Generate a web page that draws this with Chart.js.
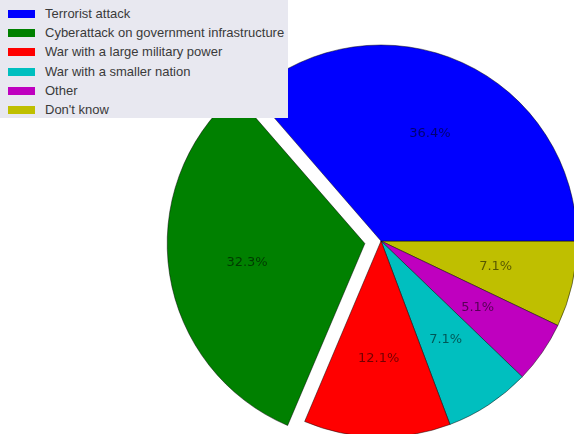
<!DOCTYPE html>
<html>
<head>
<meta charset="utf-8">
<script src="https://cdn.jsdelivr.net/npm/chart.js@4"></script>
<style>
  body { margin: 0; background: #fff; }
  #wrap { position: relative; width: 574px; height: 434px; overflow: hidden; }
  #legend {
    position: absolute; left: 0; top: 0; width: 288px; height: 118px;
    background: #e8e8f0; font-family: "Liberation Sans", Arial, sans-serif;
    font-size: 13px; color: #3a3a3a; z-index: 2;
  }
  .row { position: absolute; left: 0; height: 19px; line-height: 19px; white-space: nowrap; }
  .sw { position: absolute; left: 8px; top: 6px; width: 27px; height: 8px; }
  .lb { position: absolute; left: 45px; top: 0; }
</style>
</head>
<body>
<div id="wrap">
  <canvas id="pie" width="574" height="434"></canvas>
  <div id="legend"></div>
</div>
<script>
const labels = [
  'Terrorist attack',
  'Cyberattack on government infrastructure',
  'War with a large military power',
  'War with a smaller nation',
  'Other',
  "Don't know"
];
const values = [36.4, 32.3, 12.1, 7.1, 5.1, 7.1];
const colors = ['#0000ff', '#008000', '#ff0000', '#00bfbf', '#bf00bf', '#bfbf00'];
const explode = [0, 18, 0, 0, 0, 0]; // pixels

// legend (top-left box)
const legend = document.getElementById('legend');
labels.forEach((name, i) => {
  const row = document.createElement('div');
  row.className = 'row';
  row.style.top = (4 + i * 19.2) + 'px';
  row.innerHTML = '<span class="sw" style="background:' + colors[i] + '"></span><span class="lb"></span>';
  row.querySelector('.lb').textContent = name;
  legend.appendChild(row);
});

// matplotlib goes counter-clockwise from 3 o'clock, chart.js clockwise -> reverse
const rev = a => a.slice().reverse();
const total = values.reduce((a, b) => a + b, 0);

// chart.js arc moves by offset/4 * (2 - sin(circ)), so convert pixels to its offset option
const arcShift = (off, circ) => off / 4 * (2 - Math.sin(Math.min(Math.PI, circ)));
const offsets = explode.map((px, i) => {
  if (!px) return 0;
  const circ = values[i] / total * 2 * Math.PI;
  return px / arcShift(1, circ);
});

const pctLabels = {
  id: 'pctLabels',
  afterDatasetsDraw(chart) {
    const ctx = chart.ctx;
    const meta = chart.getDatasetMeta(0);
    ctx.save();
    ctx.font = '13px "DejaVu Sans", sans-serif';
    ctx.fillStyle = 'rgba(0,0,0,0.55)';
    ctx.textAlign = 'center';
    ctx.textBaseline = 'middle';
    meta.data.forEach((arc, i) => {
      const p = arc.getProps(['x', 'y', 'startAngle', 'endAngle', 'outerRadius', 'circumference']);
      const mid = (p.startAngle + p.endAngle) / 2;
      const shift = arcShift(arc.options.offset || 0, p.circumference);
      const r = p.outerRadius * 0.6 + shift;
      const v = chart.data.datasets[0].data[i];
      ctx.fillText((v / total * 100).toFixed(1) + '%', p.x + Math.cos(mid) * r, p.y + Math.sin(mid) * r);
    });
    ctx.restore();
  }
};

new Chart(document.getElementById('pie'), {
  type: 'pie',
  data: {
    labels: rev(labels),
    datasets: [{
      data: rev(values),
      backgroundColor: rev(colors),
      borderColor: 'rgba(0,0,0,0.6)',
      borderWidth: 0.8,
      offset: rev(offsets),
      clip: false
    }]
  },
  options: {
    responsive: false,
    animation: false,
    rotation: 90,
    radius: 196,
    layout: { padding: { left: 188, right: 0, top: 48, bottom: 0 } },
    plugins: {
      legend: { display: false },
      tooltip: { enabled: false }
    }
  },
  plugins: [pctLabels]
});
</script>
</body>
</html>
